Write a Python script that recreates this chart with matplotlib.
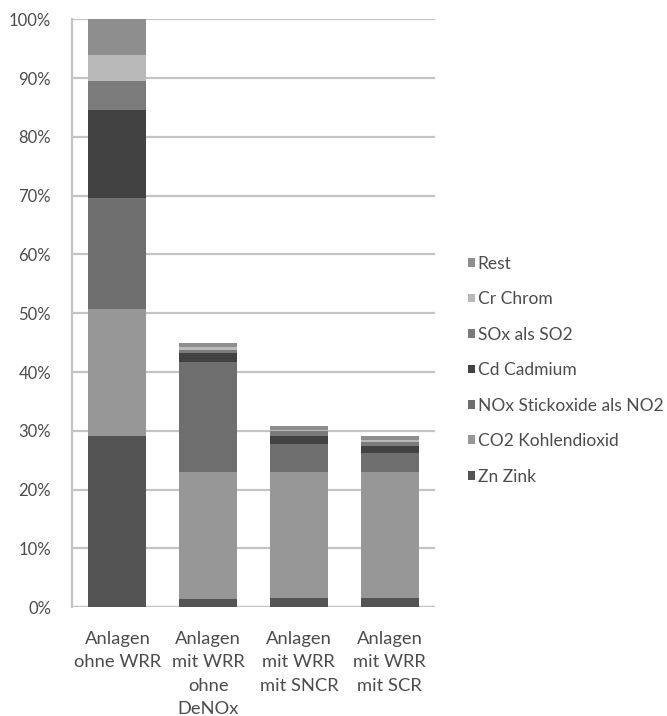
import matplotlib
matplotlib.use("Agg")
import matplotlib.pyplot as plt
import numpy as np

categories = ["Anlagen\nohne WRR", "Anlagen\nmit WRR\nohne\nDeNOx",
              "Anlagen\nmit WRR\nmit SNCR", "Anlagen\nmit WRR\nmit SCR"]

# Stacked shares in percent, bottom to top
series_names = ["Zn Zink", "CO2 Kohlendioxid", "NOx Stickoxide als NO2",
                "Cd Cadmium", "SOx als SO2", "Cr Chrom", "Rest"]
zn   = [29.1, 1.4, 1.5, 1.5]
co2  = [21.7, 21.6, 21.5, 21.5]
nox  = [18.8, 18.7, 4.7, 3.2]
cd   = [14.9, 1.5, 1.4, 1.2]
sox  = [5.0, 0.6, 0.8, 0.7]
cr   = [4.4, 0.4, 0.3, 0.3]
rest = [6.1, 0.7, 0.6, 0.7]
series_values = [zn, co2, nox, cd, sox, cr, rest]
colors = ["#545454", "#979797", "#6f6f6f", "#424242", "#7b7b7b", "#b9b9b9", "#8e8e8e"]

ytick_values = list(range(0, 101, 10))
ytick_labels = [f"{v}%" for v in ytick_values]

plt.rcParams['font.family'] = ['Lato', 'DejaVu Sans']
TEXT = "#4c4c4c"
GRID = "#c4c4c4"

fig = plt.figure(figsize=(6.67, 7.16), dpi=100)
ax = fig.add_axes([0.108, 0.152, 0.544, 0.821])

x = np.arange(len(categories))
bottom = np.zeros(len(categories))
handles = []
for name, vals, col in zip(series_names, series_values, colors):
    h = ax.bar(x, vals, width=0.64, bottom=bottom, color=col, label=name,
               edgecolor="none", zorder=3)
    handles.append(h)
    bottom += np.array(vals)

ax.set_xlim(-0.5, 3.5)
ax.set_ylim(0, 100)
ax.set_yticks(ytick_values)
ax.set_yticklabels(ytick_labels)
ax.yaxis.grid(True, color=GRID, linewidth=1.6, zorder=0)
ax.set_axisbelow(True)
for s in ["top", "right", "bottom"]:
    ax.spines[s].set_visible(False)
ax.spines["left"].set_color(GRID)
ax.spines["left"].set_linewidth(1.6)
ax.axhline(0, color=GRID, linewidth=1.6, zorder=1)
ax.tick_params(axis="y", length=0, labelsize=12, labelcolor=TEXT, pad=15)
ax.tick_params(axis="x", length=0, pad=17)
ax.set_xticks(x)
ax.set_xticklabels(categories, fontsize=13.2, color=TEXT, linespacing=1.58)

leg = fig.legend(handles[::-1], series_names[::-1], loc="center left",
                 bbox_to_anchor=(0.702, 0.483), frameon=False,
                 fontsize=12.5, labelcolor=TEXT,
                 borderpad=0, borderaxespad=0,
                 handlelength=0.4, handleheight=0.4, handletextpad=0.15,
                 labelspacing=1.12)

fig.savefig("out.png", dpi=100)
